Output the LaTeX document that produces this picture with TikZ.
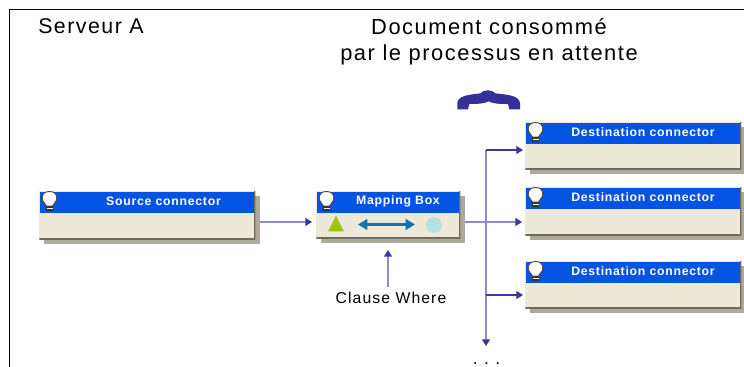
\documentclass[tikz,border=0pt]{standalone}
\usepackage{fontspec}
\setmainfont{Liberation Sans}
\newfontfamily\headfont[LetterSpace=7]{Liberation Sans}
\newfontfamily\titlefont[LetterSpace=6]{Liberation Sans}
\usetikzlibrary{arrows.meta}
\definecolor{boxfill}{HTML}{ECE9D8}
\definecolor{boxedge}{HTML}{6E6C60}
\definecolor{boxshadow}{HTML}{ADA99B}
\definecolor{titleblue}{HTML}{0453E2}
\definecolor{linelight}{HTML}{8E8CC8}
\definecolor{linedark}{HTML}{3C389C}
\definecolor{phoneblue}{HTML}{33309A}
\definecolor{icongreen}{HTML}{9CC400}
\definecolor{iconteal}{HTML}{0E73B0}
\definecolor{iconcircle}{HTML}{B8E0E4}
\newcommand{\boxpx}{0.75pt}
\tikzset{
  x=0.75pt,y=-0.75pt,
  boxbody/.style={draw=none,fill=boxfill,inner sep=0pt,anchor=north west,
    path picture={\draw[boxedge,line width=1.5pt] (path picture bounding box.north east)--(path picture bounding box.south east)--(path picture bounding box.south west);}},
  boxtitle/.style={fill=titleblue,text=white,inner sep=0pt,anchor=north west},
  boxlabel/.style={text=white,inner sep=0pt,font=\titlefont\bfseries\fontsize{9.2}{11}\selectfont},
  heading/.style={inner sep=0pt,font=\headfont\fontsize{16.4}{19.5}\selectfont,align=center},
  servername/.style={inner sep=0pt,font=\headfont\fontsize{16}{19.5}\selectfont},
  plainlabel/.style={inner sep=0pt,font=\headfont\fontsize{11.8}{13}\selectfont},
  link/.style={linelight,line width=1pt},
  lighttip/.style={link,-{Triangle[length=5pt,width=6pt,color=linedark]}},
  branch/.style={linedark,line width=0.8pt,-{Triangle[length=5pt,width=6pt]}},
  bulbicon/.pic={
    \fill[black!80] (-3.2,4) rectangle (3.2,10);
    \fill[white,draw=black!70,line width=0.7pt] (-3,5) .. controls (-4,2) and (-7.3,1) .. (-7.3,-3)
      .. controls (-7.3,-7.5) and (-4,-9.5) .. (0,-9.5)
      .. controls (4,-9.5) and (7.3,-7.5) .. (7.3,-3)
      .. controls (7.3,1) and (4,2) .. (3,5) -- cycle;
    \fill[white] (-3,7.4) rectangle (3,8.2);
  }
}
% \cbox{name}{left}{top}{width}{height}{title height}{title x}{title}
\newcommand{\cbox}[8]{%
  \fill[boxshadow] (#2+5,#3+5) rectangle (#2+#4+5,#3+#5+5);
  \node[boxbody,minimum width=#4*\boxpx,minimum height=#5*\boxpx] (#1) at (#2,#3) {};
  \node[boxtitle,minimum width=#4*\boxpx-1.5pt,minimum height=#6*\boxpx] (#1-bar) at (#2+1,#3+1) {};
  \node[boxlabel] (#1-title) at (#7,#3+10) {#8};
  \pic at (#2+10.5,#3+10) {bulbicon};
}
\begin{document}
\begin{tikzpicture}
\useasboundingbox (0,0) rectangle (744,367);
\fill[white] (0,0) rectangle (744,367);
% frame
\draw[black,line width=0.9pt] (9.5,367) -- (9.5,9.5) -- (744,9.5);
% headings
\node[servername,anchor=west] (serveur) at (38,26.5) {Serveur A};
\node[heading] (doc) at (489,41.5) {Document consommé\\par le processus en attente};
% phone
\begin{scope}[shift={(440,80)},x=0.25pt,y=-0.25pt]
\fill[phoneblue] (52,88) -- (52,68) .. controls (55,46) and (90,44) .. (122,40)
  .. controls (128,28) and (158,28) .. (166,40)
  .. controls (195,44) and (235,44) .. (240,68) -- (240,88) -- (208,88) -- (204,72)
  .. controls (180,72) and (160,72) .. (146,64)
  .. controls (130,72) and (110,72) .. (88,72) -- (84,88) -- cycle;
\end{scope}
% boxes
\cbox{source}{39}{191}{216}{48}{21}{163.5}{Source connector}
\cbox{mapping}{316}{191}{144}{47}{21}{398}{Mapping Box}
\cbox{destA}{525}{122}{216}{47}{21}{643}{Destination connector}
\cbox{destB}{525}{187}{216}{48}{21}{643}{Destination connector}
\cbox{destC}{525}{261}{216}{47}{21}{643}{Destination connector}
% mapping icons
\fill[icongreen] (328,231.5) -- (336,216) -- (344,231.5) -- cycle;
\draw[{Triangle[length=7pt,width=8pt]}-{Triangle[length=7pt,width=8pt]},iconteal,line width=1.8pt] (358,224.5) -- (415,224.5);
\fill[iconcircle] (434,225) circle (8);
% connection points
\coordinate (srcOut) at (260,222);
\coordinate (mapIn) at (312,222);
\coordinate (mapOut) at (465,222);
\coordinate (destBIn) at (522,222);
\coordinate (trunkTop) at (486,150);
\coordinate (destAIn) at (523,150);
\coordinate (trunkEnd) at (486,346);
\coordinate (trunkC) at (486,295);
\coordinate (destCIn) at (523,295);
% label
\node[plainlabel] (clause) at (391,298) {Clause Where};
\node[inner sep=0pt,font=\fontsize{13}{14}\selectfont,anchor=base] (more) at (486.5,364.5) {. . .};
\coordinate (clauseTop) at (388,287);
\coordinate (mapBelow) at (388,250);
% connectors
\draw[lighttip] (srcOut) -- (mapIn);
\draw[lighttip] (mapOut) -- (destBIn);
\draw[lighttip] (clauseTop) -- (mapBelow);
\draw[lighttip] (trunkTop) -- (trunkEnd);
\draw[branch] (trunkTop) -- (destAIn);
\draw[branch] (trunkC) -- (destCIn);
\end{tikzpicture}
\end{document}
